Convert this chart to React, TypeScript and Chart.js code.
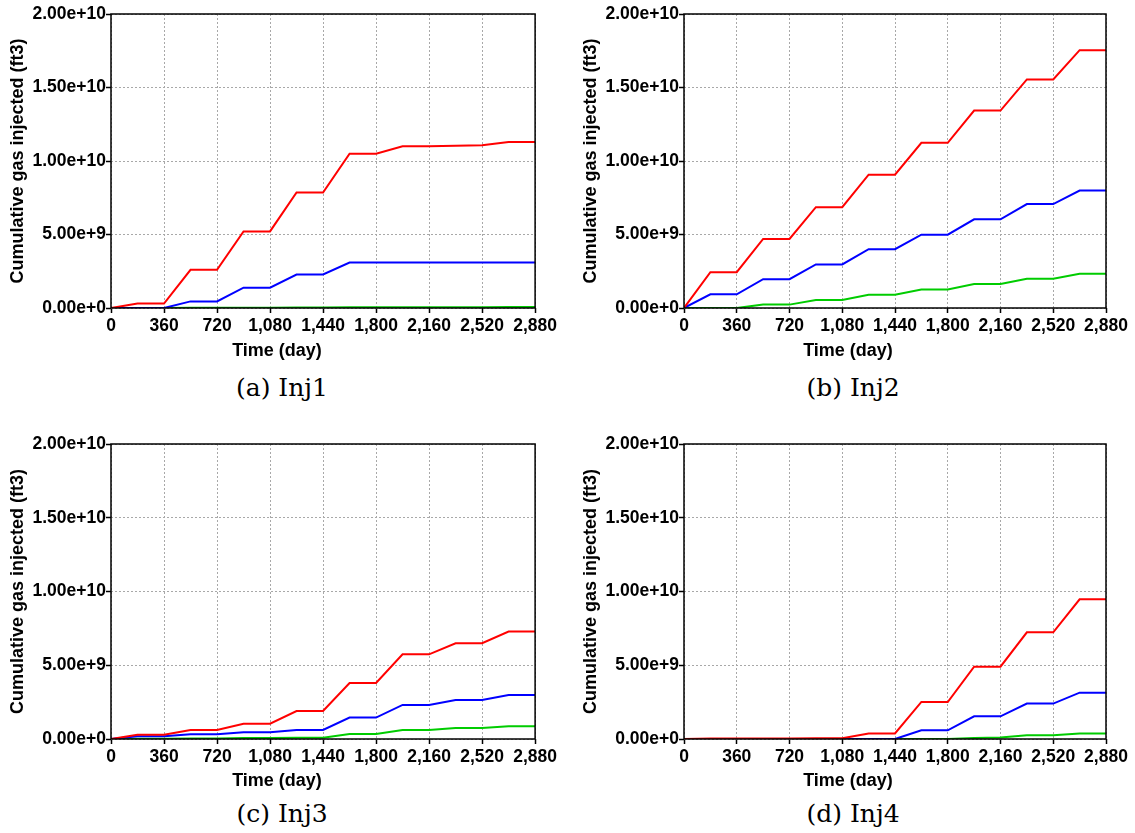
import React, { useEffect, useRef } from "react";
import { Chart, registerables } from "chart.js";

Chart.register(...registerables);

// Time axis (days)
const days = [0, 180, 360, 540, 720, 900, 1080, 1260, 1440, 1620, 1800, 1980, 2160, 2340, 2520, 2700, 2880];
const xTickStep = 360;
const xMax = 2880;
const yMax = 2.0e10;
const yStep = 5.0e9;
const UNIT = 1e9; // series below are in billions of ft3

// (a) Inj1
const inj1Red = [0, 0.30, 0.30, 2.60, 2.60, 5.21, 5.21, 7.86, 7.86, 10.5, 10.5, 11.0, 11.0, 11.03, 11.07, 11.29, 11.29];
const inj1Blue = [0, 0, 0, 0.45, 0.45, 1.38, 1.38, 2.28, 2.28, 3.09, 3.09, 3.09, 3.09, 3.09, 3.09, 3.09, 3.09];
const inj1Green = [0, 0, 0, 0.01, 0.01, 0.02, 0.02, 0.03, 0.03, 0.05, 0.05, 0.05, 0.05, 0.05, 0.05, 0.06, 0.06];

// (b) Inj2
const inj2Red = [0, 2.44, 2.44, 4.70, 4.70, 6.86, 6.86, 9.07, 9.07, 11.24, 11.24, 13.43, 13.43, 15.55, 15.55, 17.54, 17.54];
const inj2Blue = [0, 0.93, 0.93, 1.96, 1.96, 2.96, 2.96, 4.00, 4.00, 4.99, 4.99, 6.03, 6.03, 7.07, 7.07, 7.99, 7.99];
const inj2Green = [0, 0, 0, 0.23, 0.23, 0.54, 0.54, 0.90, 0.90, 1.26, 1.26, 1.63, 1.63, 1.99, 1.99, 2.33, 2.33];

// (c) Inj3
const inj3Red = [0, 0.29, 0.29, 0.61, 0.61, 1.04, 1.04, 1.90, 1.90, 3.80, 3.80, 5.74, 5.74, 6.49, 6.49, 7.28, 7.28];
const inj3Blue = [0, 0.18, 0.18, 0.32, 0.32, 0.45, 0.45, 0.61, 0.61, 1.45, 1.45, 2.31, 2.31, 2.64, 2.64, 2.98, 2.98];
const inj3Green = [0, 0.02, 0.02, 0.04, 0.04, 0.06, 0.06, 0.08, 0.08, 0.34, 0.34, 0.61, 0.61, 0.75, 0.75, 0.86, 0.86];

// (d) Inj4
const inj4Red = [0, 0.03, 0.03, 0.04, 0.04, 0.05, 0.05, 0.38, 0.38, 2.51, 2.51, 4.90, 4.90, 7.23, 7.23, 9.47, 9.47];
const inj4Blue = [0, 0, 0, 0, 0, 0, 0, 0, 0, 0.59, 0.59, 1.54, 1.54, 2.40, 2.40, 3.14, 3.14];
const inj4Green = [0, 0, 0, 0, 0, 0, 0, 0, 0, 0, 0, 0.07, 0.10, 0.25, 0.26, 0.38, 0.38];

const captions = ["(a) Inj1", "(b) Inj2", "(c) Inj3", "(d) Inj4"];
const seriesColors = ["#ff0000", "#0000ff", "#00cc00"];
const yTitle = "Cumulative gas injected (ft3)";
const xTitle = "Time (day)";

const panelSeries = [
  [inj1Red, inj1Blue, inj1Green],
  [inj2Red, inj2Blue, inj2Green],
  [inj3Red, inj3Blue, inj3Green],
  [inj4Red, inj4Blue, inj4Green],
];

// layout of each panel on the page
const panelLayout = [
  { left: 0, top: 0, width: 560, height: 362, areaLeft: 111, areaRight: 537, areaTop: 14, areaBottom: 308, titleX: 277, titleY: 351, capX: 282, capY: 388 },
  { left: 573, top: 0, width: 560, height: 362, areaLeft: 111, areaRight: 533, areaTop: 14, areaBottom: 308, titleX: 275, titleY: 351, capX: 853, capY: 388 },
  { left: 0, top: 430, width: 560, height: 362, areaLeft: 111, areaRight: 537, areaTop: 14, areaBottom: 309, titleX: 277, titleY: 351, capX: 282, capY: 814 },
  { left: 573, top: 430, width: 560, height: 362, areaLeft: 111, areaRight: 533, areaTop: 14, areaBottom: 309, titleX: 275, titleY: 351, capX: 853, capY: 814 },
];

const FONT = "'Liberation Sans', Arial, sans-serif";

const framePlugin = {
  id: "frame",
  afterDraw(chart: any, _args: any, opts: any) {
    const { ctx, chartArea } = chart;
    ctx.save();
    ctx.strokeStyle = "#000";
    ctx.lineWidth = 1.5;
    ctx.setLineDash([]);
    ctx.strokeRect(chartArea.left, chartArea.top, chartArea.right - chartArea.left, chartArea.bottom - chartArea.top);
    // x-axis title
    ctx.fillStyle = "#000";
    ctx.font = `bold 18px ${FONT}`;
    ctx.textAlign = "center";
    ctx.textBaseline = "middle";
    ctx.fillText(opts.text, opts.x, opts.y);
    ctx.restore();
  },
};

function Panel({ index }: { index: number }) {
  const ref = useRef<HTMLCanvasElement | null>(null);
  const L = panelLayout[index];
  useEffect(() => {
    if (!ref.current) return;
    const series = panelSeries[index];
    const chart = new Chart(ref.current, {
      type: "line",
      data: {
        datasets: series.map((vals, i) => ({
          data: days.map((d, j) => ({ x: d, y: vals[j] * UNIT })),
          borderColor: seriesColors[i],
          backgroundColor: seriesColors[i],
          borderWidth: 2,
          pointRadius: 0,
          tension: 0,
          fill: false,
        })),
      },
      options: {
        responsive: false,
        animation: false,
        devicePixelRatio: 1,
        layout: {
          padding: { left: 0, top: L.areaTop, right: L.width - L.areaRight, bottom: 0 },
        },
        plugins: {
          legend: { display: false },
          tooltip: { enabled: false },
          frame: { text: xTitle, x: L.titleX, y: L.titleY },
        },
        scales: {
          x: {
            type: "linear",
            min: 0,
            max: xMax,
            afterFit: (s: any) => {
              s.height = L.height - L.areaBottom;
            },
            ticks: {
              stepSize: xTickStep,
              autoSkip: false,
              maxRotation: 0,
              padding: 3,
              color: "#000",
              font: { family: FONT, size: 17.5, weight: "bold" },
              callback: (v: any) => Number(v).toLocaleString("en-US"),
            },
            grid: {
              color: "#a8a8a8",
              lineWidth: 1,
              tickLength: 5,
              tickColor: "#000",
              tickWidth: 1.5,
              tickBorderDash: [],
            },
            border: { display: false, dash: [2, 2] },
            title: { display: false },
          },
          y: {
            type: "linear",
            min: 0,
            max: yMax,
            afterFit: (s: any) => {
              s.width = L.areaLeft;
            },
            ticks: {
              stepSize: yStep,
              padding: 0,
              color: "#000",
              font: { family: FONT, size: 17.5, weight: "bold" },
              callback: (v: any) => Number(v).toExponential(2),
            },
            grid: {
              color: "#a8a8a8",
              lineWidth: 1,
              tickLength: 5,
              tickColor: "#000",
              tickWidth: 1.5,
              tickBorderDash: [],
            },
            border: { display: false, dash: [2, 2] },
            title: {
              display: true,
              text: yTitle,
              color: "#000",
              padding: { top: 7, bottom: 0 },
              font: { family: FONT, size: 18, weight: "bold" },
            },
          },
        },
      },
      plugins: [framePlugin],
    } as any);
    return () => chart.destroy();
  }, [index]);

  return (
    <>
      <canvas
        ref={ref}
        width={L.width}
        height={L.height}
        style={{ position: "absolute", left: L.left, top: L.top, width: L.width, height: L.height }}
      />
      <div
        style={{
          position: "absolute",
          left: L.capX - 150,
          top: L.capY - 16,
          width: 300,
          height: 32,
          lineHeight: "32px",
          textAlign: "center",
          fontFamily: "'DejaVu Serif', serif",
          fontSize: 25,
          color: "#000",
        }}
      >
        {captions[index]}
      </div>
    </>
  );
}

export default function App() {
  return (
    <div style={{ position: "absolute", left: 0, top: 0, width: 1135, height: 833, background: "#fff", overflow: "hidden" }}>
      {[0, 1, 2, 3].map((i) => (
        <Panel key={i} index={i} />
      ))}
    </div>
  );
}
